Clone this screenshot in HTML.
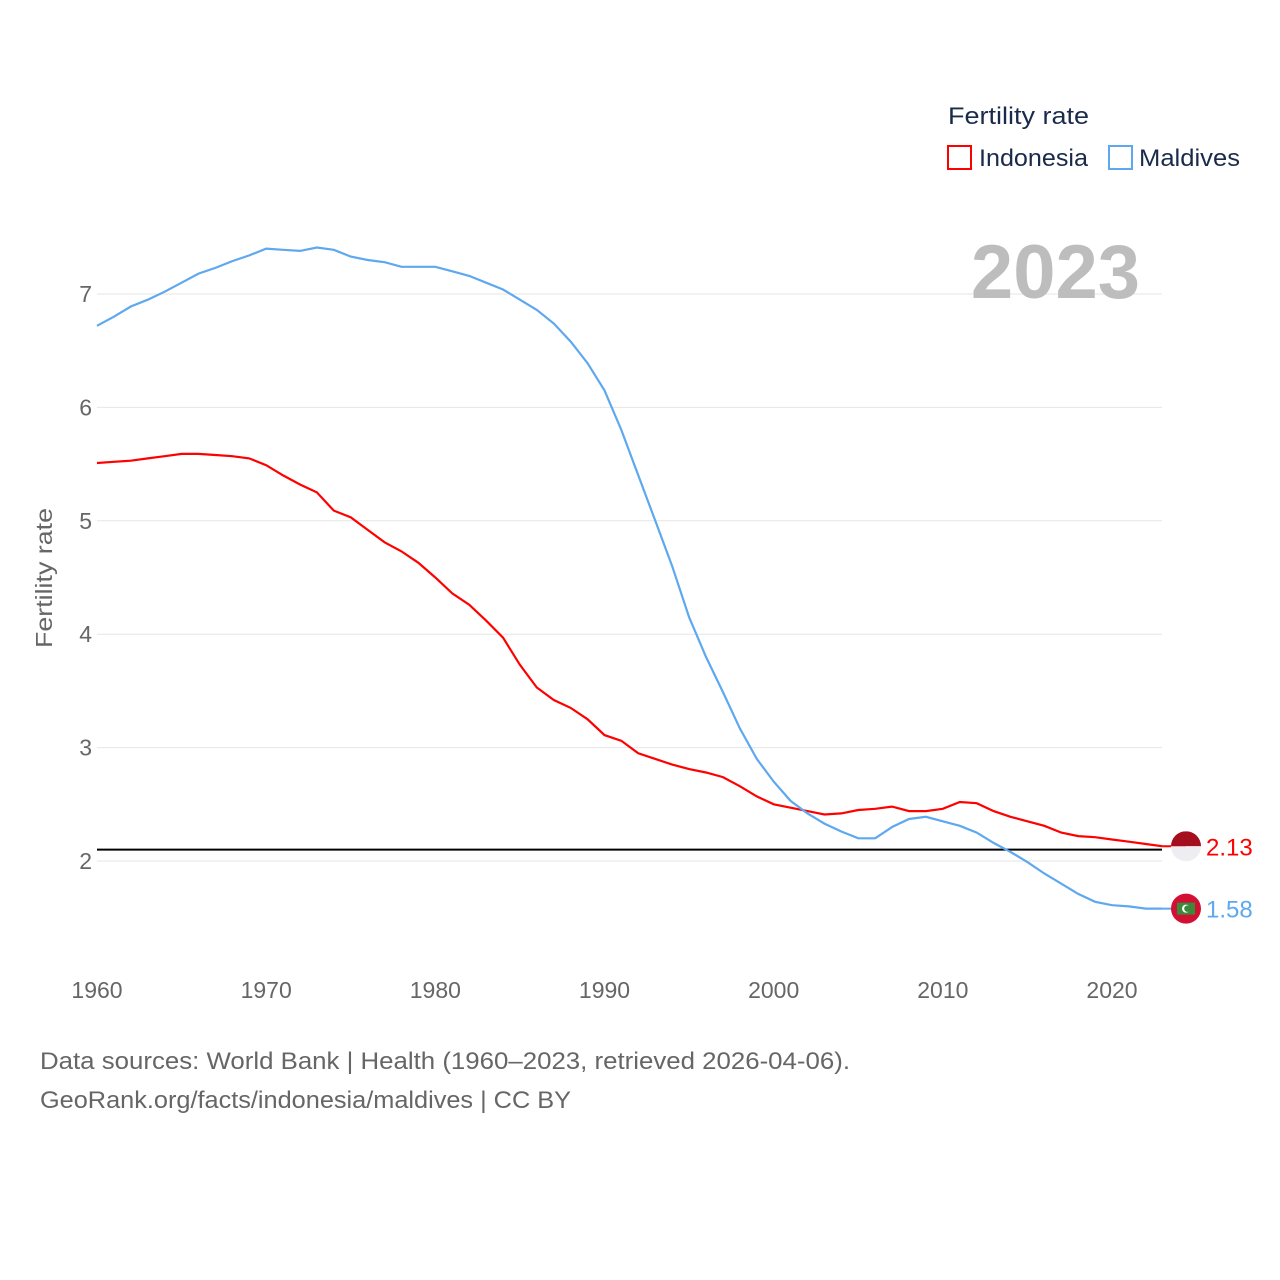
<!DOCTYPE html>
<html><head><meta charset="utf-8">
<style>
body{margin:0;background:#fff;}
svg{display:block;font-family:"Liberation Sans",sans-serif;}
</style></head>
<body>
<svg id="chart" width="1280" height="1280" viewBox="0 0 1280 1280">
<g id="grid"></g>
<g id="yticks"></g>
<g id="xticks"></g>
<text x="52" y="578" transform="rotate(-90 52 578)" text-anchor="middle" font-size="23" fill="#666" textLength="140" lengthAdjust="spacingAndGlyphs">Fertility rate</text>
<text x="1140" y="298" text-anchor="end" font-size="76" font-weight="bold" fill="#bdbdbd">2023</text>
<g id="series"></g>
<g>
<text x="948" y="124" font-size="24" fill="#1a2b4a" textLength="141" lengthAdjust="spacingAndGlyphs">Fertility rate</text>
<g>
<rect x="948" y="146" width="23" height="23" fill="none" stroke="#f00" stroke-width="2"/>
<text x="979" y="166" font-size="24" fill="#1a2b4a" textLength="109" lengthAdjust="spacingAndGlyphs">Indonesia</text></g>
<g>
<rect x="1109" y="146" width="23" height="23" fill="none" stroke="#5ea8ef" stroke-width="2"/>
<text x="1139" y="166" font-size="24" fill="#1a2b4a" textLength="101" lengthAdjust="spacingAndGlyphs">Maldives</text></g>
</g>
<text x="40" y="1069" font-size="24" fill="#666" textLength="810" lengthAdjust="spacingAndGlyphs">Data sources: World Bank | Health (1960–2023, retrieved 2026-04-06).</text>
<text x="40" y="1108" font-size="24" fill="#666" textLength="531" lengthAdjust="spacingAndGlyphs">GeoRank.org/facts/indonesia/maldives | CC BY</text>
</svg>
<script>
const years = [];
for (let y = 1960; y <= 2023; y++) years.push(y);
const indonesia = [5.51,5.52,5.53,5.55,5.57,5.59,5.59,5.58,5.57,5.55,5.49,5.4,5.32,5.25,5.09,5.03,4.92,4.81,4.73,4.63,4.5,4.36,4.26,4.12,3.97,3.73,3.53,3.42,3.35,3.25,3.11,3.06,2.95,2.9,2.85,2.81,2.78,2.74,2.66,2.57,2.5,2.47,2.44,2.41,2.42,2.45,2.46,2.48,2.44,2.44,2.46,2.52,2.51,2.44,2.39,2.35,2.31,2.25,2.22,2.21,2.19,2.17,2.15,2.13];
const maldives = [6.72,6.8,6.89,6.95,7.02,7.1,7.18,7.23,7.29,7.34,7.4,7.39,7.38,7.41,7.39,7.33,7.3,7.28,7.24,7.24,7.24,7.2,7.16,7.1,7.04,6.95,6.86,6.74,6.58,6.39,6.15,5.8,5.4,5.0,4.6,4.15,3.8,3.49,3.17,2.9,2.7,2.53,2.42,2.33,2.26,2.2,2.2,2.3,2.37,2.39,2.35,2.31,2.25,2.16,2.08,1.99,1.89,1.8,1.71,1.64,1.61,1.6,1.58,1.58];
const yTicks = [2,3,4,5,6,7];
const xTicks = [1960,1970,1980,1990,2000,2010,2020];
const threshold = 2.1;

const NS = "http://www.w3.org/2000/svg";
const xs = yr => 97 + (yr - 1960) * (1015 / 60);
const ys = v => 861 - (v - 2) * 113.4;
function mk(tag, attrs, parent) {
  const e = document.createElementNS(NS, tag);
  for (const k in attrs) e.setAttribute(k, attrs[k]);
  parent.appendChild(e);
  return e;
}
const grid = document.getElementById('grid');
const yt = document.getElementById('yticks');
yTicks.forEach(v => {
  const l = mk('line', {x1: 97, x2: 1162, y1: ys(v), y2: ys(v), stroke: '#e6e6e6', 'stroke-width': 1}, grid);
  
  
  const t = mk('text', {x: 92, y: ys(v) + 8, 'text-anchor': 'end', 'font-size': 23, fill: '#666'}, yt);
  t.textContent = v;
  
  
});
const xt = document.getElementById('xticks');
xTicks.forEach(v => {
  const t = mk('text', {x: xs(v), y: 998, 'text-anchor': 'middle', 'font-size': 23, fill: '#666'}, xt);
  t.textContent = v;
  
  
});
const sg = document.getElementById('series');
const th = mk('line', {x1: 97, x2: 1162, y1: ys(threshold), y2: ys(threshold), stroke: '#000', 'stroke-width': 2}, sg);



function drawSeries(vals, color, name) {
  const d = vals.map((v, i) => (i ? 'L' : 'M') + xs(years[i]).toFixed(1) + ',' + ys(v).toFixed(1)).join(' ');
  const p = mk('path', {d: d, fill: 'none', stroke: color, 'stroke-width': 2.2}, sg);
  
  
  const last = vals[vals.length - 1];
  const ly = ys(last);
  const c = mk('line', {x1: xs(2023), x2: 1186, y1: ly, y2: ly, stroke: color, 'stroke-width': 2}, sg);
  
  
  return ly;
}
const iy = drawSeries(indonesia, '#f00', 'indonesia');
const my = drawSeries(maldives, '#5ea8ef', 'maldives');

const fi = mk('g', {}, sg);


mk('clipPath', {id: 'ci'}, fi).appendChild(document.createElementNS(NS, 'circle'));
const ci = fi.querySelector('#ci circle');
ci.setAttribute('cx', 1186); ci.setAttribute('cy', iy); ci.setAttribute('r', 15);
mk('rect', {x: 1171, y: iy - 15, width: 30, height: 15, fill: '#a50e1f', 'clip-path': 'url(#ci)'}, fi);
mk('rect', {x: 1171, y: iy, width: 30, height: 15, fill: '#eeeef2', 'clip-path': 'url(#ci)'}, fi);
const il = mk('text', {x: 1206, y: iy + 9, 'font-size': 24, fill: '#f00'}, sg);
il.textContent = indonesia[indonesia.length - 1].toFixed(2);



const fm = mk('g', {}, sg);


mk('circle', {cx: 1186, cy: my, r: 15, fill: '#d21034'}, fm);
mk('rect', {x: 1177, y: my - 6, width: 18, height: 12, fill: '#3a8a3a'}, fm);
mk('circle', {cx: 1186, cy: my, r: 4, fill: '#fff'}, fm);
mk('circle', {cx: 1187.5, cy: my, r: 3.3, fill: '#3a8a3a'}, fm);
const ml = mk('text', {x: 1206, y: my + 9, 'font-size': 24, fill: '#5ea8ef'}, sg);
ml.textContent = maldives[maldives.length - 1].toFixed(2);


</script>
</body></html>
